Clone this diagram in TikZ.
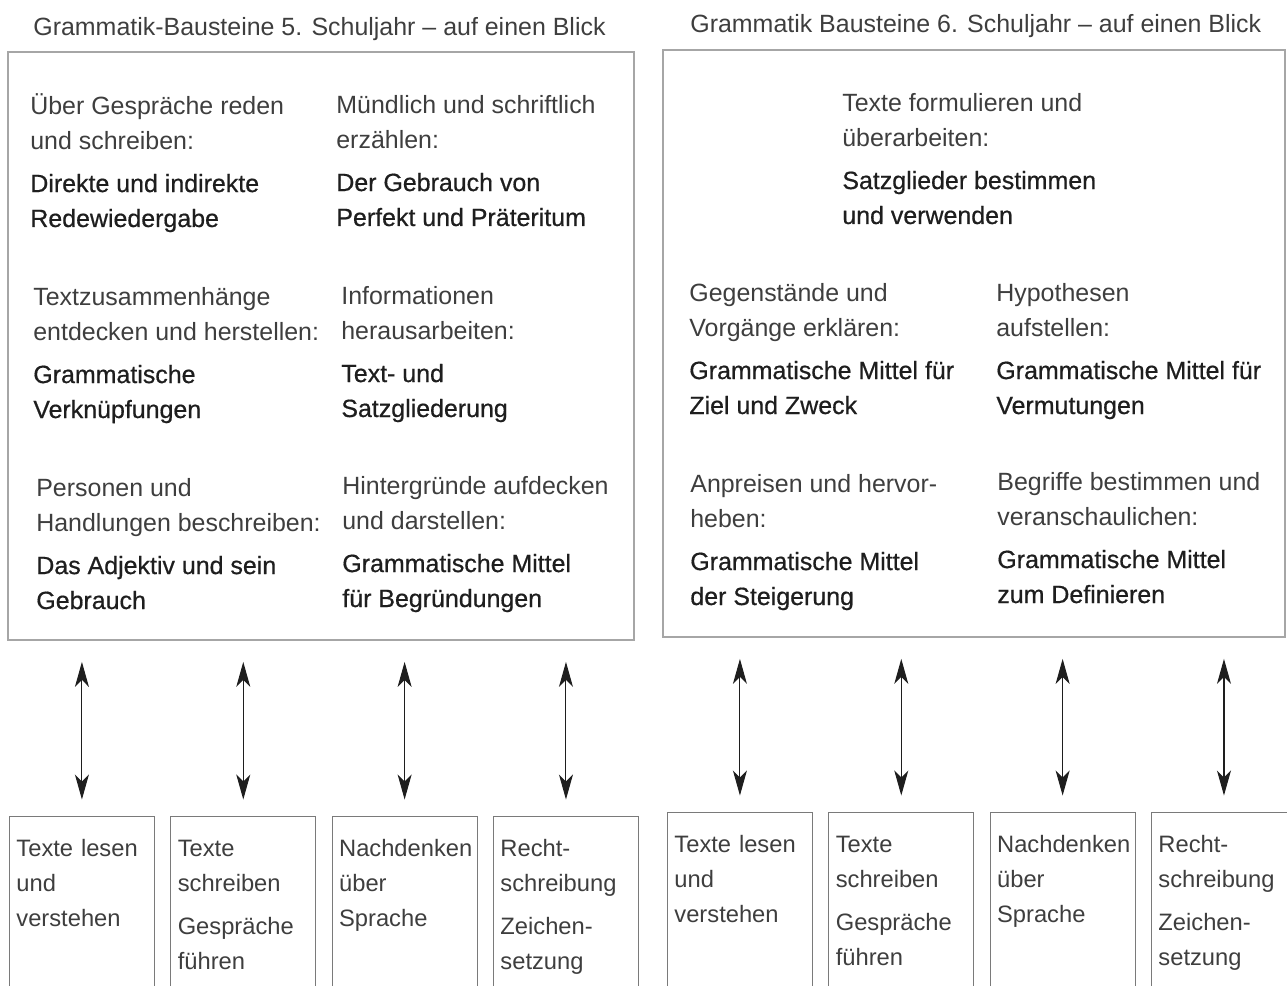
\documentclass[tikz,border=0pt]{standalone}
\usepackage{fontspec}
\setmainfont{Liberation Sans}
\newfontfamily\hervorfont[FakeBold=0.6]{Liberation Sans}
\usetikzlibrary{arrows.meta,positioning}
\definecolor{gbgray}{HTML}{A6A6A6}
\definecolor{gbline}{HTML}{7A7A7A}
\definecolor{gbtext}{HTML}{3E3E3E}
\definecolor{gbdark}{HTML}{1E1E1E}
\newcommand{\hervor}[1]{{\hervorfont\color{gbdark}#1}}
\hyphenpenalty=10000
\exhyphenpenalty=10000

\tikzset{
  titel/.style={anchor=base west,inner sep=0pt,font=\fontsize{14.2}{19.9}\selectfont,text=gbtext},
  % anchored at the baseline of the last line
  baustein/.style={anchor=base west,inner sep=0pt,align=left,font=\fontsize{14.2}{19.9}\selectfont,text=gbtext},
  rahmen/.style={draw=gbgray,line width=1.1pt,inner sep=0pt},
  bereich/.style={draw=gbline,line width=0.5pt,anchor=north west,text width=2.62cm,align=left,
    inner xsep=0.14cm,inner ysep=0.3cm,text height=0.5cm,text depth=3.4cm,
    font=\fontsize{13.5}{19.9}\selectfont,text=gbtext},
  bezug/.style={{Stealth[length=0.5cm,width=0.28cm,inset=0.14cm]}-{Stealth[length=0.5cm,width=0.28cm,inset=0.14cm]},
    line width=0.6pt,draw=gbdark,fill=gbdark,shorten <=0.42cm,shorten >=0.33cm},
}

\begin{document}
\begin{tikzpicture}[x=0.02cm,y=-0.02cm,node distance=0.31cm]
  \useasboundingbox (0,0) rectangle (1287,986);

  % ---- Titles ------------------------------------------------
  \node[titel] (titel5) at (33,36) {Grammatik-Bausteine 5. Schuljahr – auf einen Blick};
  \node[titel] (titel6) at (690,33) {Grammatik Bausteine 6. Schuljahr – auf einen Blick};

  % ---- Frames ------------------------------------------------
  \node[rahmen,minimum width=12.52cm,minimum height=11.76cm] (plan5) at (321,346) {};
  \node[rahmen,minimum width=12.44cm,minimum height=11.74cm] (plan6) at (974,343.5) {};

  % ---- 5. Schuljahr ------------------------------------------
  \node[baustein] (gespraeche) at (30,227)
    {Über Gespräche reden\\und schreiben:\\[0.16cm]\hervor{Direkte und indirekte}\\\hervor{Redewiedergabe}};
  \node[baustein] (erzaehlen) at (336,226)
    {Mündlich und schriftlich\\erzählen:\\[0.16cm]\hervor{Der Gebrauch von}\\\hervor{Perfekt und Präteritum}};
  \node[baustein] (zusammenhang) at (33,418)
    {Textzusammenhänge\\entdecken und herstellen:\\[0.16cm]\hervor{Grammatische}\\\hervor{Verknüpfungen}};
  \node[baustein] (informationen) at (341,417)
    {Informationen\\herausarbeiten:\\[0.16cm]\hervor{Text- und}\\\hervor{Satzgliederung}};
  \node[baustein] (personen) at (36,609)
    {Personen und\\Handlungen beschreiben:\\[0.16cm]\hervor{Das Adjektiv und sein}\\\hervor{Gebrauch}};
  \node[baustein] (hintergruende) at (342,607)
    {Hintergründe aufdecken\\und darstellen:\\[0.16cm]\hervor{Grammatische Mittel}\\\hervor{für Begründungen}};

  % ---- 6. Schuljahr ------------------------------------------
  \node[baustein] (formulieren) at (842,224)
    {Texte formulieren und\\überarbeiten:\\[0.16cm]\hervor{Satzglieder bestimmen}\\\hervor{und verwenden}};
  \node[baustein] (erklaeren) at (689,414)
    {Gegenstände und\\Vorgänge erklären:\\[0.16cm]\hervor{Grammatische Mittel für}\\\hervor{Ziel und Zweck}};
  \node[baustein] (hypothesen) at (996,414)
    {Hypothesen\\aufstellen:\\[0.16cm]\hervor{Grammatische Mittel für}\\\hervor{Vermutungen}};
  \node[baustein] (anpreisen) at (690,605)
    {Anpreisen und hervor-\\heben:\\[0.16cm]\hervor{Grammatische Mittel}\\\hervor{der Steigerung}};
  \node[baustein] (begriffe) at (997,603)
    {Begriffe bestimmen und\\veranschaulichen:\\[0.16cm]\hervor{Grammatische Mittel}\\\hervor{zum Definieren}};

  % ---- Lernbereiche ------------------------------------------
  \node[bereich] (lesen5) at (9,816) {Texte lesen\\und\\verstehen};
  \node[bereich,right=of lesen5] (schreiben5) {Texte\\schreiben\\[0.16cm]Gespräche\\führen};
  \node[bereich,right=of schreiben5] (sprache5) {Nachdenken\\über\\Sprache};
  \node[bereich,right=of sprache5] (recht5) {Recht-\\schreibung\\[0.16cm]Zeichen-\\setzung};

  \node[bereich] (lesen6) at (667,812) {Texte lesen\\und\\verstehen};
  \node[bereich,right=of lesen6] (schreiben6) {Texte\\schreiben\\[0.16cm]Gespräche\\führen};
  \node[bereich,right=of schreiben6] (sprache6) {Nachdenken\\über\\Sprache};
  \node[bereich,right=of sprache6] (recht6) {Recht-\\schreibung\\[0.16cm]Zeichen-\\setzung};

  % ---- Arrows ------------------------------------------------
  \draw[bezug] (lesen5.north |- plan5.south) -- (lesen5.north);
  \draw[bezug] (schreiben5.north |- plan5.south) -- (schreiben5.north);
  \draw[bezug] (sprache5.north |- plan5.south) -- (sprache5.north);
  \draw[bezug] (recht5.north |- plan5.south) -- (recht5.north);

  \draw[bezug] (lesen6.north |- plan6.south) -- (lesen6.north);
  \draw[bezug] (schreiben6.north |- plan6.south) -- (schreiben6.north);
  \draw[bezug] (sprache6.north |- plan6.south) -- (sprache6.north);
  \draw[bezug] (recht6.north |- plan6.south) -- (recht6.north);

\end{tikzpicture}
\end{document}
